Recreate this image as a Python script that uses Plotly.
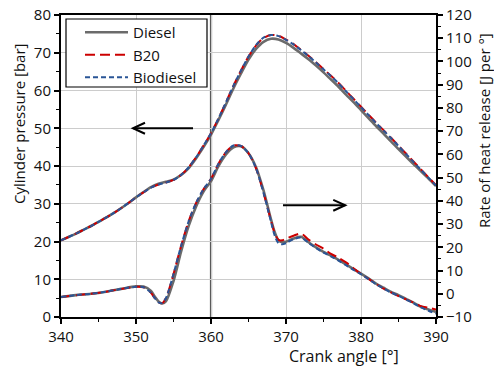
import plotly.graph_objects as go

# ---------------- data ----------------
crank_p = list(range(340, 391))
p_diesel = [20.3, 21.2, 22.1, 23.1, 24.1, 25.2, 26.3, 27.5, 28.8, 30.2,
            31.7, 33.1, 34.4, 35.3, 35.8, 36.4, 37.6, 39.4, 42.0, 45.0,
            48.3, 52.2, 56.3, 60.6, 64.5, 68.2, 71.0, 72.9, 73.7, 73.5,
            72.6, 71.3, 69.8, 68.3, 66.6, 64.8, 62.9, 61.0, 58.9, 56.9,
            54.8, 52.7, 50.6, 48.6, 46.5, 44.5, 42.5, 40.5, 38.6, 36.7, 34.7]
p_b20 = [20.3, 21.2, 22.1, 23.1, 24.1, 25.2, 26.3, 27.5, 28.8, 30.2,
         31.7, 33.0, 34.3, 35.1, 35.6, 36.3, 37.6, 39.6, 42.3, 45.4,
         48.7, 52.6, 56.9, 61.3, 65.3, 69.0, 71.9, 73.9, 74.7, 74.5,
         73.5, 72.3, 70.8, 69.2, 67.5, 65.7, 63.9, 62.0, 59.9, 57.8,
         55.7, 53.6, 51.5, 49.5, 47.5, 45.4, 43.3, 41.2, 39.1, 37.0, 34.9]
p_bio = [20.3, 21.2, 22.1, 23.1, 24.1, 25.2, 26.3, 27.5, 28.8, 30.2,
         31.7, 33.0, 34.3, 35.1, 35.6, 36.3, 37.6, 39.6, 42.3, 45.4,
         48.7, 52.6, 56.9, 61.3, 65.3, 69.0, 72.0, 74.0, 74.7, 74.4,
         73.4, 72.2, 70.7, 69.1, 67.4, 65.6, 63.8, 61.9, 59.8, 57.7,
         55.6, 53.5, 51.4, 49.4, 47.4, 45.3, 43.2, 41.1, 39.0, 36.9, 34.8]

crank_h = [340, 342, 344, 346, 348, 350, 351, 352, 352.5, 353, 353.5, 354,
           355, 356, 357, 358, 359, 360, 361, 362, 363, 364, 365, 366, 367,
           368, 368.5, 369, 369.5, 370, 371, 372, 373, 374, 375, 376, 377,
           378, 379, 380, 381, 382, 383, 384, 385, 386, 387, 388, 389, 390]
h_diesel = [-1.4, -0.6, 0.0, 0.9, 2.1, 3.2, 3.1, 1.2, -1.2, -3.3, -4.2, -3.2,
            5.5, 18.0, 29.0, 37.5, 44.0, 48.5, 55.0, 60.0, 63.0, 63.5, 60.5, 54.5, 44.5,
            32.0, 26.5, 23.0, 22.2, 22.4, 23.8, 24.5, 22.2, 20.0, 18.0, 16.4, 14.6,
            12.6, 10.6, 8.7, 6.6, 4.4, 2.6, 0.8, -0.6, -2.2, -3.8, -5.6, -6.8, -7.8]
h_b20 = [-1.4, -0.6, 0.0, 0.9, 2.1, 3.0, 2.8, 0.4, -1.9, -3.7, -4.0, -1.8,
         8.5, 20.5, 31.0, 39.0, 45.0, 49.5, 56.0, 61.0, 63.8, 63.6, 60.5, 54.0, 43.5,
         31.5, 26.0, 23.2, 23.0, 23.7, 25.0, 25.9, 23.3, 21.2, 19.4, 17.2, 15.5,
         13.5, 11.0, 8.5, 6.4, 4.3, 2.2, 0.6, -1.0, -2.4, -3.8, -5.3, -6.0, -6.8]
h_bio = [-1.4, -0.6, 0.0, 0.9, 2.1, 3.0, 2.8, 0.4, -1.9, -3.7, -4.0, -1.8,
         8.5, 20.5, 31.0, 39.0, 45.0, 49.5, 56.0, 61.0, 63.8, 63.6, 60.5, 54.0, 43.5,
         31.0, 25.0, 21.8, 21.3, 21.8, 23.5, 24.2, 21.9, 19.7, 17.7, 16.1, 14.3,
         12.3, 10.3, 8.4, 6.3, 4.1, 2.3, 0.5, -0.9, -2.5, -4.1, -5.9, -7.3, -8.5]

series = ["Diesel", "B20", "Biodiesel"]
x_ticks = [340, 350, 360, 370, 380, 390]

# ---------------- styles ----------------
FONT = "Open Sans, Noto Sans, sans-serif"
TXT = "#111111"
styles = {
    "Diesel": dict(color="#6b6b6b", width=2.6, dash="solid"),
    "B20": dict(color="#cc0000", width=2.0, dash="10px,5px"),
    "Biodiesel": dict(color="#2a5596", width=2.0, dash="5px,3px"),
}

PL, PR, PT, PB = 61, 436, 15, 317          # plot area in pixels
W, H = 494, 367


def px(xp):
    return (xp - PL) / (PR - PL)


def py(yp):
    return (PB - yp) / (PB - PT)


fig = go.Figure()
for name, p, h in zip(series, [p_diesel, p_b20, p_bio], [h_diesel, h_b20, h_bio]):
    fig.add_trace(go.Scatter(x=crank_p, y=p, name=name, mode="lines",
                             line=dict(shape="spline", smoothing=0.8, **styles[name]),
                             legendgroup=name, yaxis="y"))
    fig.add_trace(go.Scatter(x=crank_h, y=h, name=name, mode="lines",
                             line=dict(shape="spline", smoothing=0.8, **styles[name]),
                             legendgroup=name, showlegend=False, yaxis="y2"))

axis_common = dict(ticks="outside", ticklen=5, tickwidth=1.5, tickcolor="black",
                   showline=True, linecolor="black", linewidth=2,
                   tickfont=dict(family=FONT, size=15, color=TXT),
                   zeroline=False, automargin=False)

fig.update_layout(
    width=W, height=H,
    margin=dict(l=PL, r=W - PR, t=PT, b=H - PB, pad=0, autoexpand=False),
    paper_bgcolor="white", plot_bgcolor="white",
    font=dict(family=FONT, size=15, color=TXT),
    showlegend=True,
    legend=dict(x=px(80), y=py(16), xanchor="left", yanchor="top",
                borderwidth=0, bgcolor="rgba(0,0,0,0)",
                font=dict(family=FONT, size=15, color=TXT),
                tracegroupgap=0, itemwidth=43),
    xaxis=dict(range=[340, 390], tickvals=x_ticks, mirror=True,
               showgrid=True, gridcolor="#cccccc", gridwidth=1,
               minor=dict(dtick=5, tick0=340, ticks="outside", ticklen=3,
                          tickwidth=1, tickcolor="black", showgrid=False),
               **axis_common),
    yaxis=dict(range=[0, 80], dtick=10, showgrid=True, gridcolor="#cccccc",
               gridwidth=1,
               minor=dict(dtick=5, ticks="outside", ticklen=3, tickwidth=1,
                          tickcolor="black", showgrid=False),
               **axis_common),
    yaxis2=dict(range=[-10, 120], dtick=10, overlaying="y", side="right",
                showgrid=False,
                minor=dict(dtick=5, ticks="outside", ticklen=3, tickwidth=1,
                           tickcolor="black", showgrid=False),
                **axis_common),
)

# vertical line at TDC (drawn above the grid, below the curves)
fig.add_shape(type="line", xref="x", yref="paper", x0=360, x1=360, y0=0, y1=1,
              line=dict(color="#5a5a5a", width=2.2), layer="between")

# legend frame
fig.add_shape(type="rect", xref="paper", yref="paper",
              x0=px(66), x1=px(207), y0=py(87), y1=py(19),
              line=dict(color="black", width=1.2), fillcolor="white", layer="above")

# arrows (tail x, head x, y on left axis)
arrows = [(357.6, 349.6, 50.0), (369.6, 377.9, 29.6)]
for tail, head, yv in arrows:
    d = 1.6 if head < tail else -1.6
    fig.add_shape(type="line", xref="x", yref="y", x0=tail, x1=head, y0=yv, y1=yv,
                  line=dict(color="black", width=2))
    fig.add_shape(type="path", xref="x", yref="y",
                  path=f"M {head + d} {yv + 1.45} L {head} {yv} L {head + d} {yv - 1.45}",
                  line=dict(color="black", width=2))

# axis titles
title_font = dict(family=FONT, size=15, color=TXT)
fig.add_annotation(text="Cylinder pressure [bar]", xref="paper", yref="paper",
                   x=px(19), y=py(124), textangle=-90, xanchor="center",
                   yanchor="middle", showarrow=False, font=title_font)
fig.add_annotation(text="Rate of heat release [J per °]", xref="paper", yref="paper",
                   x=px(484), y=py(130), textangle=-90, xanchor="center",
                   yanchor="middle", showarrow=False, font=title_font)
fig.add_annotation(text="Crank angle [°]", xref="paper", yref="paper",
                   x=px(344), y=py(356), xanchor="center", yanchor="middle",
                   showarrow=False, font=dict(family=FONT, size=16, color=TXT))

fig.write_html("out.html", config=dict(displayModeBar=False),
               post_script="document.body.style.margin='0px';")
